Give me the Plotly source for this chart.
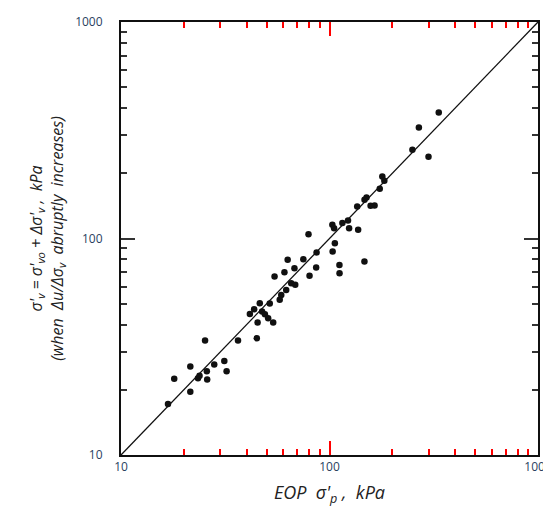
import plotly.graph_objects as go

# EOP preconsolidation stress sigma'_p (kPa) -- x values
eop_sigma_p = [16.8, 18.0, 21.5, 21.5, 23.4, 23.8, 25.3, 25.8, 25.9, 28.0,
               31.3, 32.1, 36.4, 44.8, 41.5, 43.5, 46.3, 47.5, 45.2, 49.0,
               51.7, 53.7, 50.8, 54.5, 57.7, 58.7, 60.8, 63.0, 62.0, 65.5,
               68.5, 67.9, 74.9, 79.3, 80.2, 86.7, 86.3, 103.2, 105.2, 106.1,
               103.5, 111.6, 111.7, 115.3, 122.7, 124.2, 137.2, 135.8, 147.2, 150.5,
               147.1, 157.4, 164.5, 174.2, 179.2, 183.2, 249.8, 268.3, 298.4, 334.2]

# sigma'_v = sigma'_vo + delta sigma'_v (kPa) when du/dsigma_v abruptly increases
sigma_v = [17.2, 22.5, 19.6, 25.6, 22.6, 23.2, 33.8, 24.4, 22.3, 26.2,
           27.2, 24.4, 33.8, 34.6, 44.8, 47.1, 50.2, 46.0, 40.9, 44.7,
           50.1, 40.9, 42.8, 66.7, 52.1, 54.9, 69.9, 79.7, 57.9, 62.2,
           61.1, 72.9, 80.3, 104.7, 67.2, 86.1, 73.4, 115.7, 111.6, 95.1,
           87.1, 75.5, 69.1, 117.8, 121.1, 111.6, 109.7, 140.6, 150.9, 154.7,
           78.3, 141.6, 142.1, 169.7, 193.5, 184.8, 257.0, 326.0, 238.5, 382.3]

# 1:1 line end points
one_to_one = [10, 1000]

# axis ticks
major_ticks = [10, 100, 1000]
major_labels = ["10", "100", "1000"]
minor_ticks = [20, 30, 40, 50, 60, 70, 80, 90, 200, 300, 400, 500, 600, 700, 800, 900]

ink = "#101010"
tick_ink_x = "red"
tick_ink_y = "#333333"

nb = "\u00a0"
x_title = f"<i>EOP{nb}{nb}σ'<sub>p</sub>{nb},{nb}{nb}kPa</i>"
y_title = (f"<i>σ'<sub>v</sub>{nb}={nb}σ'<sub>vo</sub>{nb}+{nb}Δσ'<sub>v</sub>{nb},{nb}{nb}kPa</i>"
           f"<br><i>(when{nb}{nb}Δu/Δσ<sub>v</sub>{nb}{nb}abruptly{nb}{nb}increases)</i>")

fig = go.Figure()
fig.add_trace(go.Scatter(x=one_to_one, y=one_to_one, mode="lines",
                         line=dict(color=ink, width=1.3), hoverinfo="skip"))
fig.add_trace(go.Scatter(x=eop_sigma_p, y=sigma_v, mode="markers",
                         marker=dict(color=ink, size=6.5)))

fig.update_xaxes(type="log", range=[1, 3], tickmode="array", tickvals=major_ticks,
                 ticktext=major_labels, ticks="inside", ticklen=14, tickwidth=2,
                 tickcolor=tick_ink_x, showline=True, linecolor=ink, linewidth=2,
                 mirror="ticks", showgrid=False, automargin=False,
                 minor=dict(ticks="inside", ticklen=6, tickcolor=tick_ink_x,
                            tickmode="array", tickvals=minor_ticks),
                 title=dict(text=x_title, standoff=12,
                            font=dict(size=18, color="#222222")))
fig.update_yaxes(type="log", range=[1, 3], tickmode="array", tickvals=major_ticks,
                 ticktext=major_labels, ticks="inside", ticklen=14, tickwidth=2,
                 tickcolor=tick_ink_y, showline=True, linecolor=ink, linewidth=2,
                 mirror="ticks", showgrid=False, ticklabelstandoff=14,
                 automargin=False,
                 minor=dict(ticks="inside", ticklen=6, tickcolor=tick_ink_y,
                            tickmode="array", tickvals=minor_ticks),
                 title=dict(text=y_title, standoff=8,
                            font=dict(size=16, color="#222222")))

fig.update_layout(width=551, height=511, margin=dict(l=113, r=21, t=14, b=64),
                  paper_bgcolor="white", plot_bgcolor="white", showlegend=False)

fig.write_html("out.html")
